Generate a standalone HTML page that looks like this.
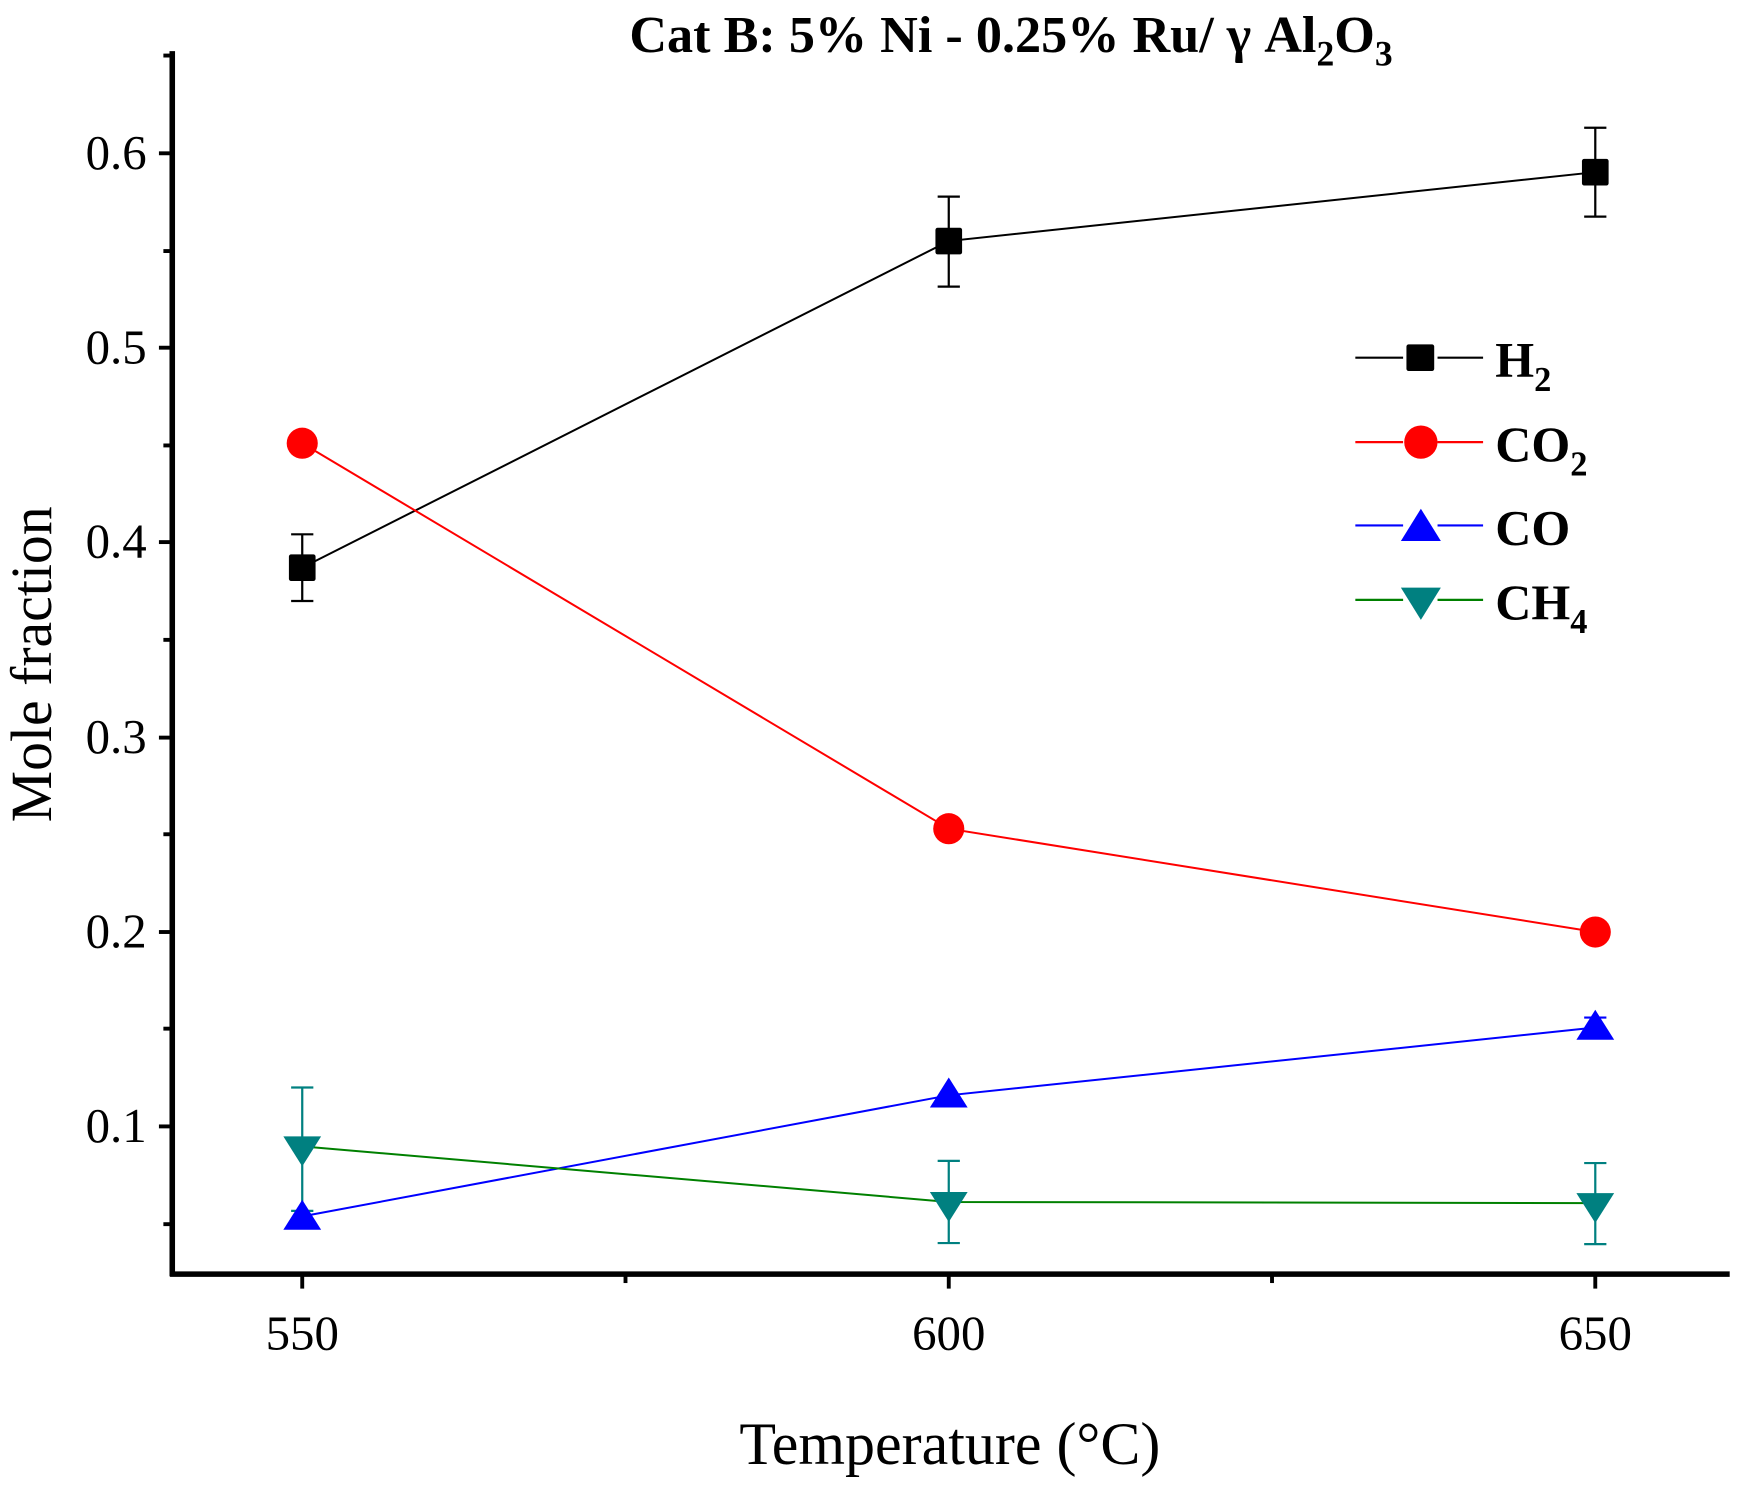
<!DOCTYPE html>
<html><head><style>html,body{margin:0;padding:0;background:#fff}</style></head>
<body>
<svg width="1742" height="1493" viewBox="0 0 1568 1344" xmlns="http://www.w3.org/2000/svg" font-family="Liberation Serif, serif">
<rect width="1568" height="1344" fill="#fff"/>
<!-- axes -->
<line x1="155" y1="46" x2="155" y2="1149" stroke="#000" stroke-width="5"/>
<line x1="153" y1="1147" x2="1557" y2="1147" stroke="#000" stroke-width="5"/>
<g stroke="#000" stroke-width="3.5">
<line x1="143" y1="138" x2="155" y2="138"/><line x1="143" y1="313" x2="155" y2="313"/><line x1="143" y1="488" x2="155" y2="488"/><line x1="143" y1="664" x2="155" y2="664"/><line x1="143" y1="839" x2="155" y2="839"/><line x1="143" y1="1014" x2="155" y2="1014"/>
<line x1="147" y1="50" x2="155" y2="50"/><line x1="147" y1="226" x2="155" y2="226"/><line x1="147" y1="401" x2="155" y2="401"/><line x1="147" y1="576" x2="155" y2="576"/><line x1="147" y1="751" x2="155" y2="751"/><line x1="147" y1="926" x2="155" y2="926"/><line x1="147" y1="1102" x2="155" y2="1102"/>
<line x1="272" y1="1147" x2="272" y2="1160"/><line x1="854" y1="1147" x2="854" y2="1160"/><line x1="1436" y1="1147" x2="1436" y2="1160"/>
<line x1="563" y1="1147" x2="563" y2="1155"/><line x1="1145" y1="1147" x2="1145" y2="1155"/>
</g>
<g font-size="44" text-anchor="end" fill="#000">
<text x="132" y="152">0.6</text><text x="132" y="327">0.5</text><text x="132" y="502">0.4</text><text x="132" y="678">0.3</text><text x="132" y="853">0.2</text><text x="132" y="1028">0.1</text>
</g>
<g font-size="44" text-anchor="middle">
<text x="272" y="1215">550</text><text x="854" y="1215">600</text><text x="1436" y="1215">650</text>
</g>
<text x="855" y="1318" font-size="54" text-anchor="middle">Temperature (°C)</text>
<text transform="translate(46,598) rotate(-90)" font-size="52" text-anchor="middle">Mole fraction</text>
<text x="910" y="47" font-size="47" font-weight="bold" text-anchor="middle">Cat B: 5% Ni - 0.25% Ru/ γ Al<tspan font-size="32" dy="12">2</tspan><tspan dy="-12">O</tspan><tspan font-size="32" dy="12">3</tspan></text>
<!-- lines -->
<polyline points="272,511 854,217 1436,155" fill="none" stroke="#000" stroke-width="1.8"/>
<polyline points="272,399 854,746 1436,839" fill="none" stroke="#f00" stroke-width="1.8"/>
<polyline points="272,1095 854,986 1436,925" fill="none" stroke="#00f" stroke-width="1.8"/>
<polyline points="272,1032 854,1082 1436,1083" fill="none" stroke="#008000" stroke-width="1.8"/>
<!-- error bars -->
<g stroke="#000" stroke-width="2">
<path d="M272 481V541M262 481H282M262 541H282"/>
<path d="M854 177V258M844 177H864M844 258H864"/>
<path d="M1436 115V195M1426 115H1446M1426 195H1446"/>
</g>
<g stroke="#008080" stroke-width="2">
<path d="M272 979V1090M262 979H282M262 1090H282"/>
<path d="M854 1045V1119M844 1045H864M844 1119H864"/>
<path d="M1436 1047V1120M1426 1047H1446M1426 1120H1446"/>
</g>
<path d="M1426 916H1446" stroke="#00f" stroke-width="2"/>
<!-- markers -->
<g fill="#000"><rect x="260" y="499" width="24" height="24" rx="2"/><rect x="842" y="205" width="24" height="24" rx="2"/><rect x="1424" y="143" width="24" height="24" rx="2"/></g>
<g fill="#f00"><circle cx="272" cy="399" r="14"/><circle cx="854" cy="746" r="14"/><circle cx="1436" cy="839" r="14"/></g>
<g fill="#00f"><path d="M272 1080l-17 27h34z"/><path d="M854 970l-17 27h34z"/><path d="M1436 909l-17 27h34z"/></g>
<g fill="#008080"><path d="M272 1050l-17-27h34z"/><path d="M854 1100l-17-27h34z"/><path d="M1436 1101l-17-27h34z"/></g>
<!-- legend -->
<g stroke-width="2">
<path d="M1220 322H1263M1294 322H1335" stroke="#000"/>
<path d="M1220 398H1263M1294 398H1335" stroke="#f00"/>
<path d="M1220 473H1263M1294 473H1335" stroke="#00f"/>
<path d="M1220 540H1263M1294 540H1335" stroke="#008000"/>
</g>
<rect x="1266" y="310" width="25" height="24" rx="2" fill="#000"/>
<circle cx="1279" cy="398" r="15" fill="#f00"/>
<path d="M1279 458l-18 29h36z" fill="#00f"/>
<path d="M1279 558l-18-29h36z" fill="#008080"/>
<g font-size="45" font-weight="bold">
<text x="1346" y="339">H<tspan font-size="31" dy="13">2</tspan></text>
<text x="1346" y="415">CO<tspan font-size="31" dy="13">2</tspan></text>
<text x="1346" y="490">CO</text>
<text x="1346" y="557">CH<tspan font-size="31" dy="13">4</tspan></text>
</g>
</svg>
</body></html>
